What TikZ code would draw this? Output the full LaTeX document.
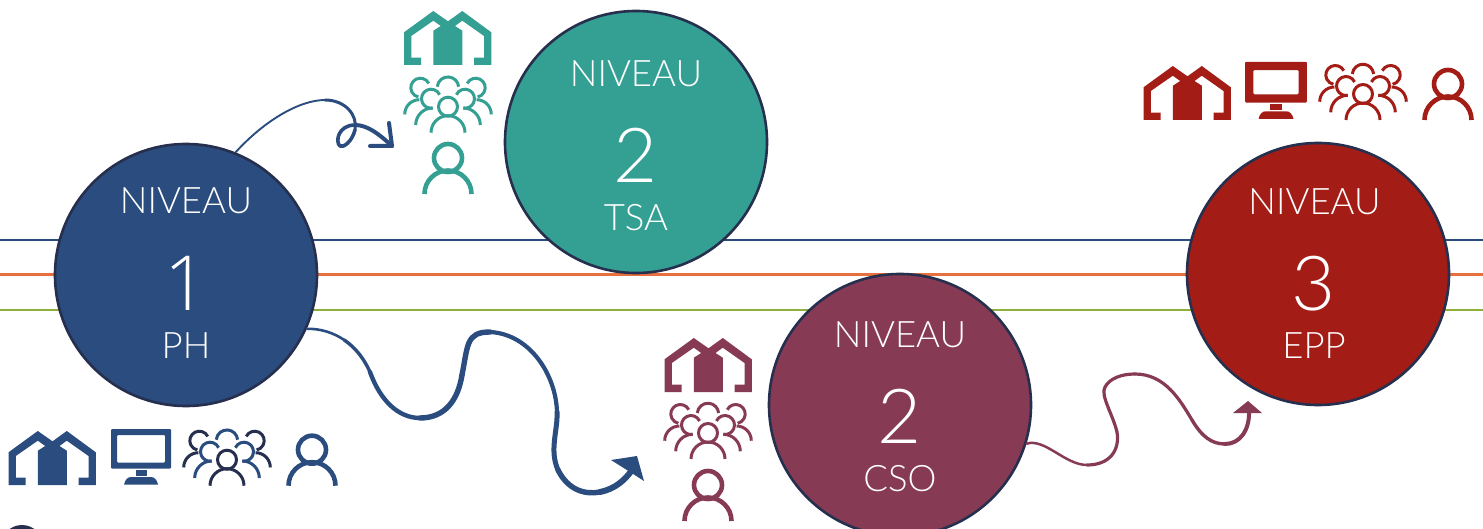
\documentclass[tikz,border=0pt]{standalone}
\usepackage{fontspec}
\setmainfont{Lato Light}
\newfontfamily\onefont{Open Sans Light}
\definecolor{cblue}{HTML}{2B4C7E}
\definecolor{cteal}{HTML}{34A093}
\definecolor{cmaroon}{HTML}{873A54}
\definecolor{cred}{HTML}{A31C16}
\definecolor{cdark}{HTML}{262F4D}
\definecolor{corange}{HTML}{E8703F}
\definecolor{cgreen}{HTML}{8DB03D}
\tikzset{
  x=1pt,y=1pt,
  level/.style={circle,draw=cdark,line width=2.6pt,minimum size=262pt,inner sep=0pt,fill=#1},
  lab/.style={text=white,font=\fontsize{36.5}{38}\selectfont,anchor=base,inner sep=0pt},
  num/.style={text=white,font=\fontsize{76}{76}\selectfont,anchor=base,inner sep=0pt},
  band/.style={line width=2.6pt,draw=#1},
  pics/housei/.style={code={
    \fill[#1] (0,0)--(0,32.7)--(29.3,54)--(44,43.7)--(58.3,54)--(87.3,32.7)--(87.3,0)--(70,0)--(70,7.3)--(80,7.3)--(80,29)--(58.3,44.3)--(51,39)--(58.3,34.3)--(58.3,0)--(29.3,0)--(29.3,34.3)--(36.7,39)--(29.3,44.3)--(7.3,29)--(7.3,7.3)--(17,7.3)--(17,0)--cycle;
  }},
  pics/monitori/.style 2 args={code={
    \fill[#1,even odd rule] [rounded corners=1pt] (-30,16)rectangle(30,55.5) (-30+#2,16+#2)rectangle(30-#2,55.5-#2);
    \fill[#1] (-5.5,8.5)rectangle(5.5,14.5);
    \fill[#1] (-17,0)--(17,0) .. controls (16,5) and (13,7.5) .. (10,7.5) -- (-10,7.5) .. controls (-13,7.5) and (-16,5) .. (-17,0)--cycle;
  }},
  pics/personi/.style={code={
    \draw[#1,line width=4.6pt,line cap=butt] (0,36) circle[radius=14];
    \draw[#1,line width=4.6pt,line cap=butt] (-23.5,0) arc[start angle=180,end angle=0,radius=23.5];
  }},
  pics/groupi/.style 2 args={code={
    \begin{scope}[line width=3pt,line cap=butt]
    \draw[#1] (0,26) circle[radius=9.5];
    \draw[#1] (-17,0) arc[start angle=180,end angle=0,radius=17];
    \draw[#2] (-17,34)++(25:9.5) arc[start angle=25,end angle=280,radius=9.5];
    \draw[#2] (17,34)++(155:9.5) arc[start angle=155,end angle=-100,radius=9.5];
    \draw[#2] (-32.3,7.7) arc[start angle=180,end angle=90,radius=17];
    \draw[#2] (32.3,7.7) arc[start angle=0,end angle=90,radius=17];
    \draw[#1] (-27.7,45)++(27:9.5) arc[start angle=27,end angle=258,radius=9.5];
    \draw[#1] (27.7,45)++(153:9.5) arc[start angle=153,end angle=-78,radius=9.5];
    \draw[#1] (-43.3,18.3) arc[start angle=180,end angle=90,radius=14.7];
    \draw[#1] (43.3,18.3) arc[start angle=0,end angle=90,radius=14.7];
    \draw[#2] (-10.7,46) arc[start angle=175,end angle=5,radius=10.7];
    \end{scope}
  }},
}
\begin{document}
\begin{tikzpicture}[line cap=round,line join=round]
\useasboundingbox (0,-529) rectangle (1483,0);
\clip (0,-529) rectangle (1483,0);
\coordinate (bl) at (0,-240); \coordinate (br) at (1483,-240);
\coordinate (ol) at (0,-274.5); \coordinate (or) at (1483,-274.5);
\coordinate (gl) at (0,-310); \coordinate (gr) at (1483,-310);
\draw[band=cblue,line cap=butt] (bl)--(br);
\draw[band=corange,line cap=butt] (ol)--(or);
\draw[band=cgreen,line cap=butt] (gl)--(gr);
\node[level=cblue] (n1) at (186,-275) {};
\node[level=cteal] (n2) at (636,-142) {};
\node[level=cmaroon] (n3) at (900,-405) {};
\node[level=cred] (n4) at (1318,-274) {};
\fill[cdark] (22,-546) circle[radius=21];
% labels
\node[lab] (a1) at (186,-214) {NIVEAU};
\node[num,font=\onefont\fontsize{76}{76}\selectfont] (a2) at (186,-310) {1};
\node[lab] (a3) at (186,-358) {PH};
\node[lab] (b1) at (636,-87) {NIVEAU};
\node[num] (b2) at (636,-183) {2};
\node[lab] (b3) at (636,-231) {TSA};
\node[lab] (c1) at (900,-347) {NIVEAU};
\node[num] (c2) at (900,-443) {2};
\node[lab] (c3) at (900,-491) {CSO};
\node[lab] (d1) at (1314.5,-215) {NIVEAU};
\node[num] (d2) at (1314,-310) {3};
\node[lab] (d3) at (1314,-358) {EPP};
% icons
\pic at (404,-65) {housei=cteal};
\pic at (448,-132.7) {groupi={cteal}{cteal}};
\pic at (448,-194) {personi=cteal};
\pic at (8.5,-485) {housei=cblue};
\pic at (141,-484.5) {monitori={cblue}{6}};
\pic at (227,-485.7) {groupi={cdark}{cblue}};
\pic at (312,-485.7) {personi=cblue};
\pic at (1143.5,-120) {housei=cred};
\pic[scale=1.03] at (1276,-119) {monitori={cred}{8}};
\pic at (1363,-120) {groupi={cred}{cred}};
\pic at (1448,-120) {personi=cred};
\pic at (664.5,-392) {housei=cmaroon};
\pic at (708,-459) {groupi={cmaroon}{cmaroon}};
\pic at (708,-521) {personi=cmaroon};
% connector 1
\coordinate (t1) at (392,-146);
\draw[cblue,line width=1.9pt] (n1.68) .. controls (265,-120) and (300,-100) .. (325,-100);
\draw[cblue,line width=3pt] (325,-100) .. controls (345,-100) and (358,-115) .. (355,-130);
\draw[cblue,line width=3.6pt] (355,-130) .. controls (352,-142) and (343,-148) .. (340,-146) .. controls (335,-142) and (338,-125) .. (355,-125);
\draw[cblue,line width=4pt] (355,-125) .. controls (368,-125) and (380,-135) .. (t1);
\draw[cblue,line width=4pt] (389,-123) -- (t1) -- (370,-146);
% connector 2
\coordinate (t2) at (632,-470);
\draw[cblue,line width=2.6pt] (n1.-24) .. controls (320,-328.5) and (333.25,-332.5) .. (344.25,-340);
\draw[cblue,line width=3.4pt] (344.25,-340) .. controls (355.25,-347.5) and (364,-358.5) .. (370,-372);
\draw[cblue,line width=4.4pt] (370,-372) .. controls (380,-400) and (398,-418) .. (420,-418);
\draw[cblue,line width=5.4pt] (420,-418) .. controls (445,-418) and (458,-400) .. (462,-375);
\draw[cblue,line width=5.4pt] (462,-375) .. controls (468,-345) and (466,-332) .. (490,-332);
\draw[cblue,line width=4.2pt] (490,-332) .. controls (530,-334) and (556,-375) .. (557,-412);
\draw[cblue,line width=5pt] (557,-412) .. controls (558,-430) and (549,-450) .. (558,-470);
\draw[cblue,line width=5.4pt] (558,-470) .. controls (568,-490) and (585,-495) .. (600,-492);
\draw[cblue,line width=6pt] (600,-492) .. controls (615,-489) and (625,-480) .. (t2);
\fill[cblue] (611,-460) -- (637,-456) -- (644,-481) -- (630,-472) -- cycle;
% connector 3
\coordinate (t3) at (1249,-410);
\draw[cmaroon,line width=2.5pt] (n3.-17) .. controls (1045,-438) and (1065,-465) .. (1087,-465);
\draw[cmaroon,line width=3.2pt] (1087,-465) .. controls (1110,-465) and (1120,-450) .. (1117,-432);
\draw[cmaroon,line width=3.2pt] (1117,-432) .. controls (1113,-415) and (1100,-395) .. (1105,-387);
\draw[cmaroon,line width=3.2pt] (1105,-387) .. controls (1110,-378) and (1122,-374) .. (1135,-374);
\draw[cmaroon,line width=3.2pt] (1135,-374) .. controls (1165,-374) and (1180,-400) .. (1192,-420);
\draw[cmaroon,line width=3.4pt] (1192,-420) .. controls (1202,-437) and (1212,-444) .. (1225,-444);
\draw[cmaroon,line width=4pt] (1225,-444) .. controls (1240,-444) and (1250,-430) .. (t3);
\fill[cmaroon] (1233,-413) -- (1248,-401) -- (1262,-413) -- cycle;
\end{tikzpicture}
\end{document}
